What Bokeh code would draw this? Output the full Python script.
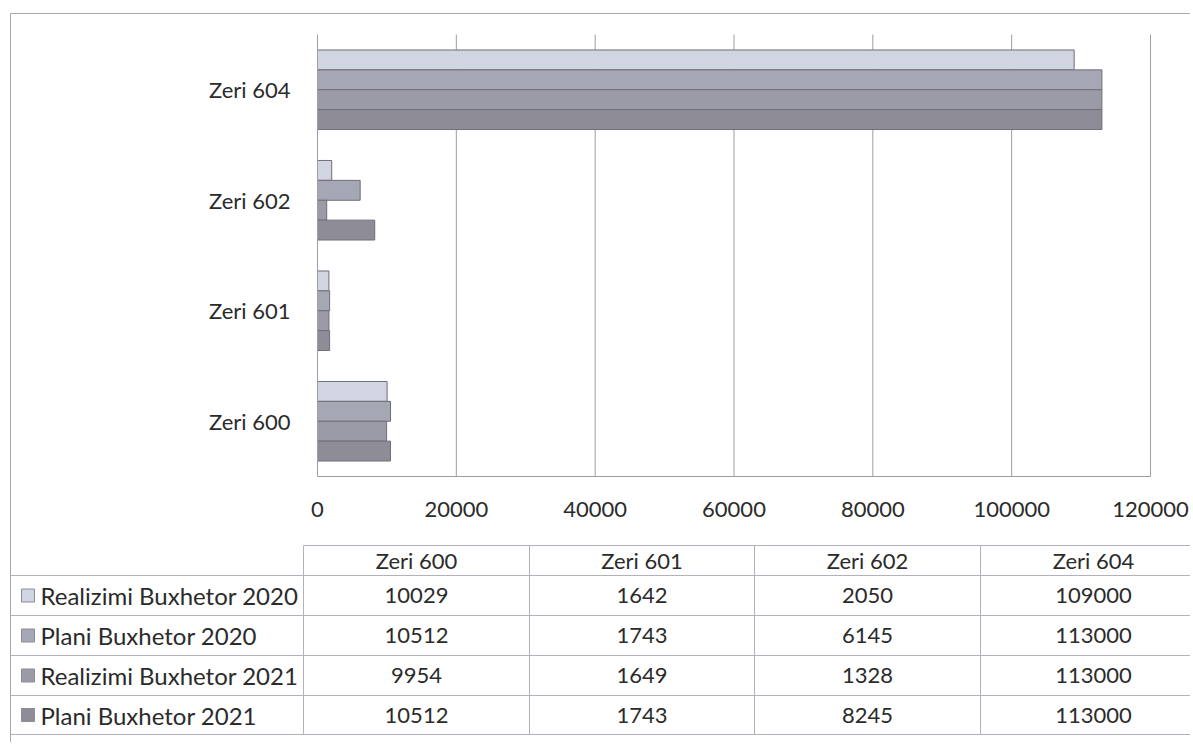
from bokeh.plotting import figure
from bokeh.models import ColumnDataSource, Range1d, FixedTicker, LinearAxis
from bokeh.transform import dodge
from bokeh.embed import file_html
from bokeh.resources import INLINE
from bokeh.core.properties import value

# ---------------- data ----------------
categories = ["Zeri 600", "Zeri 601", "Zeri 602", "Zeri 604"]
series_names = ["Realizimi Buxhetor 2020", "Plani Buxhetor 2020",
                "Realizimi Buxhetor 2021", "Plani Buxhetor 2021"]
realizimi_2020 = [10029, 1642, 2050, 109000]
plani_2020 = [10512, 1743, 6145, 113000]
realizimi_2021 = [9954, 1649, 1328, 113000]
plani_2021 = [10512, 1743, 8245, 113000]
x_ticks = [0, 20000, 40000, 60000, 80000, 100000, 120000]
x_tick_labels = ["0", "20000", "40000", "60000", "80000", "100000", "120000"]

# ---------------- styles / layout ----------------
colors = ["#d1d4e1", "#a6a7b5", "#9b9ba7", "#8d8c97"]
FONT = "Lato"
TXT = "#2b2b2b"
LINE = "#9d9daa"
TLINE = "#b2b2bc"
FRAME = "#a9a9b3"
FS = "22px"
FS_ROW = "24px"
W, H = 1190, 742
PLOT_L, PLOT_R, PLOT_T, PLOT_B = 317, 1150, 34, 476
X_MAX = x_ticks[-1]
N = len(categories)

series_values = [realizimi_2020, plani_2020, realizimi_2021, plani_2021]
keys = ["r20", "p20", "r21", "p21"]
data = {"cat": categories, "pos": [i + 0.5 for i in range(N)]}
for k, v in zip(keys, series_values):
    data[k] = v
src = ColumnDataSource(data)

# one canvas; default ranges are page pixels, extra ranges carry the chart scales
p = figure(width=W, height=H, x_range=Range1d(0, W), y_range=Range1d(H, 0),
           output_backend="svg", toolbar_location=None, min_border=0,
           x_axis_location=None, y_axis_location=None)
p.grid.visible = False
p.outline_line_color = None
p.background_fill_color = "white"
p.border_fill_color = "white"

kx = X_MAX / (PLOT_R - PLOT_L)
ky = N / (PLOT_B - PLOT_T)
p.extra_x_ranges = {"val": Range1d(-PLOT_L * kx, (W - PLOT_L) * kx)}
p.extra_y_ranges = {"cat": Range1d(-(H - PLOT_B) * ky, N + PLOT_T * ky)}

# grid lines at the value ticks
p.segment(x0=x_ticks[1:], y0=[0] * (len(x_ticks) - 1), x1=x_ticks[1:], y1=[N] * (len(x_ticks) - 1),
          x_range_name="val", y_range_name="cat", line_color=LINE, line_width=1)

offsets = [0.27, 0.09, -0.09, -0.27]
for k, off, c in zip(keys, offsets, colors):
    p.hbar(y=dodge("pos", off), left=0, right=k, height=0.18, source=src,
           x_range_name="val", y_range_name="cat",
           fill_color=c, line_color="#6f6e79", line_width=1)

xaxis = LinearAxis(x_range_name="val", y_range_name="cat", fixed_location=0,
                   bounds=(0, X_MAX), ticker=FixedTicker(ticks=x_ticks))
xaxis.major_label_overrides = {t: l for t, l in zip(x_ticks, x_tick_labels)}
yaxis = LinearAxis(x_range_name="val", y_range_name="cat", fixed_location=0,
                   bounds=(0, N), ticker=FixedTicker(ticks=data["pos"]))
yaxis.major_label_overrides = {pos: c for pos, c in zip(data["pos"], categories)}
for ax in (xaxis, yaxis):
    ax.axis_line_color = LINE
    ax.major_tick_line_color = None
    ax.minor_tick_line_color = None
    ax.major_tick_out = 0
    ax.major_tick_in = 0
    ax.major_label_text_font = FONT
    ax.major_label_text_font_size = FS
    ax.major_label_text_color = TXT
xaxis.major_label_standoff = 25
yaxis.major_label_standoff = 27
p.add_layout(xaxis, "below")
p.add_layout(yaxis, "left")

# ---------------- outer frame ----------------
p.segment(x0=[10, 10], y0=[13, 13], x1=[W + 5, 10], y1=[13, H + 5], line_color=FRAME, line_width=1)

# ---------------- data table ----------------
col_edges = [303, 529, 754, 980, 1206]
row_edges = [575, 615, 655, 695, 734]
header_top = 545
left_edge = 10

x0s, y0s, x1s, y1s = [], [], [], []
x0s.append(col_edges[0]); x1s.append(W + 5); y0s.append(header_top); y1s.append(header_top)
for ry in row_edges:
    x0s.append(left_edge); x1s.append(W + 5); y0s.append(ry); y1s.append(ry)
for cx in col_edges[:-1]:
    x0s.append(cx); x1s.append(cx); y0s.append(header_top); y1s.append(row_edges[-1])
p.segment(x0=x0s, y0=y0s, x1=x1s, y1=y1s, line_color=TLINE, line_width=1)

centers = [(a + b) / 2 for a, b in zip(col_edges[:-1], col_edges[1:])]
p.text(x=centers, y=[(header_top + row_edges[0]) / 2] * len(centers), text=categories,
       text_font=value(FONT), text_font_size=FS, text_color=TXT,
       text_align="center", text_baseline="middle")

row_centers = [(a + b) / 2 for a, b in zip(row_edges[:-1], row_edges[1:])]
for rc, vals in zip(row_centers, series_values):
    p.text(x=centers, y=[rc] * len(centers), text=[str(v) for v in vals],
           text_font=value(FONT), text_font_size=FS, text_color=TXT,
           text_align="center", text_baseline="middle")

p.rect(x=[27.5] * 4, y=row_centers, width=13, height=13,
       fill_color=colors, line_color="#8c8c96", line_width=1)
p.text(x=[40] * 4, y=row_centers, text=series_names,
       text_font=value(FONT), text_font_size=FS_ROW, text_color=TXT,
       text_align="left", text_baseline="middle")

open("out.html", "w").write(file_html(p, INLINE))
